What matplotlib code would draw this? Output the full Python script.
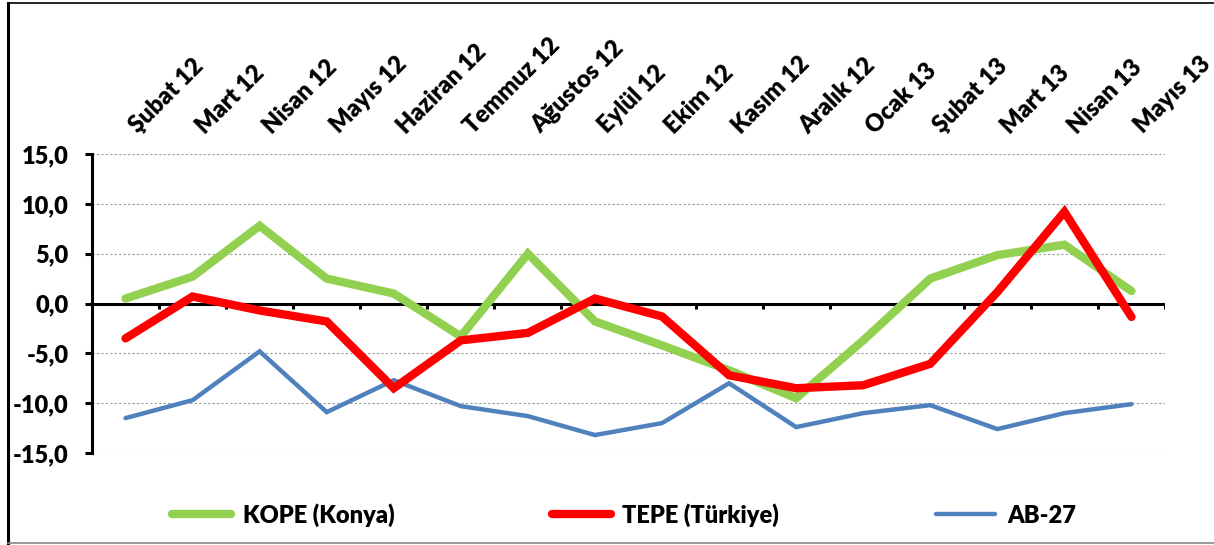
import numpy as np
from matplotlib import pyplot as plt
from matplotlib.lines import Line2D
from matplotlib import transforms

months = ['Şubat 12', 'Mart 12', 'Nisan 12', 'Mayıs 12', 'Haziran 12', 'Temmuz 12',
          'Ağustos 12', 'Eylül 12', 'Ekim 12', 'Kasım 12', 'Aralık 12', 'Ocak 13',
          'Şubat 13', 'Mart 13', 'Nisan 13', 'Mayıs 13']
kope = [0.5, 2.7, 7.8, 2.5, 1.0, -3.3, 5.0, -1.8, -4.2, -6.7, -9.5, -3.7,
        2.5, 4.85, 5.9, 1.25]
tepe = [-3.5, 0.7, -0.7, -1.8, -8.5, -3.7, -2.95, 0.5, -1.3, -7.2, -8.5, -8.2,
        -6.05, 1.15, 9.2, -1.35]
ab27 = [-11.5, -9.7, -4.8, -10.9, -7.7, -10.3, -11.3, -13.2, -12.0, -8.0, -12.4, -11.0,
        -10.2, -12.6, -11.0, -10.1]
yticks = [-15, -10, -5, 0, 5, 10, 15]

plt.rcParams['font.family'] = ['Lato', 'DejaVu Sans']
fw = 'heavy'
fs = 17

W, H = 1214, 545
fig = plt.figure(figsize=(W / 100, H / 100), dpi=100)
ax = fig.add_axes([92 / W, 1 - 453 / H, (1165 - 92) / W, (453 - 154) / H])

x = np.arange(len(months))
ax.plot(x, kope, color='#92D050', lw=6, solid_capstyle='round', solid_joinstyle='miter',
        label='KOPE (Konya)', zorder=3)
ax.plot(x, tepe, color='#FF0000', lw=6, solid_capstyle='round', solid_joinstyle='miter',
        label='TEPE (Türkiye)', zorder=4)
ax.plot(x, ab27, color='#4F81BD', lw=3.2, solid_capstyle='round', solid_joinstyle='miter',
        label='AB-27', zorder=3)

ax.set_xlim(-0.5, len(months) - 0.5)
ax.set_ylim(-15, 15)

# gridlines, zero axis with category ticks
for v in yticks:
    if v != 0:
        ax.axhline(v, color='#999999', lw=0.8, ls=(0, (2, 2)), zorder=1)
ax.axhline(0, color='black', lw=2.2, zorder=2)
ax.vlines(np.arange(0.5, len(months)), 0, -0.6, color='black', lw=2.2, zorder=2)

for s in ['top', 'right', 'bottom']:
    ax.spines[s].set_visible(False)
ax.spines['left'].set_linewidth(2.2)
ax.set_yticks(yticks)
ax.set_yticklabels([f'{v:.1f}'.replace('.', ',') for v in yticks], fontsize=fs,
                   fontweight=fw)
ax.tick_params(axis='y', length=5, width=2.2, pad=12)

ax.xaxis.tick_top()
ax.set_xticks(x)
ax.set_xticklabels(months, rotation=45, ha='left', va='bottom', rotation_mode='anchor',
                   fontsize=fs, fontweight=fw)
ax.tick_params(axis='x', length=0, pad=12)
shift = transforms.ScaledTranslation(15 / 100, 0, fig.dpi_scale_trans)
for lab in ax.get_xticklabels():
    lab.set_transform(lab.get_transform() + shift)

fig.legend(loc='center', bbox_to_anchor=(624 / W, 1 - 515 / H), ncol=3, frameon=False,
           handlelength=2.5, handletextpad=0.5, columnspacing=6.65,
           prop={'weight': fw, 'size': fs})

# outer frame
fig.add_artist(Line2D([8 / W, 8 / W], [1 - 3 / H, 1 - 543 / H], color='black', lw=2.2,
                      transform=fig.transFigure))
fig.add_artist(Line2D([8 / W, 1], [1 - 3 / H, 1 - 3 / H], color='black', lw=1.2,
                      transform=fig.transFigure))
fig.add_artist(Line2D([8 / W, 1], [1 - 543 / H, 1 - 543 / H], color='#888888', lw=1.2,
                      transform=fig.transFigure))

fig.savefig('out.png', dpi=100)
